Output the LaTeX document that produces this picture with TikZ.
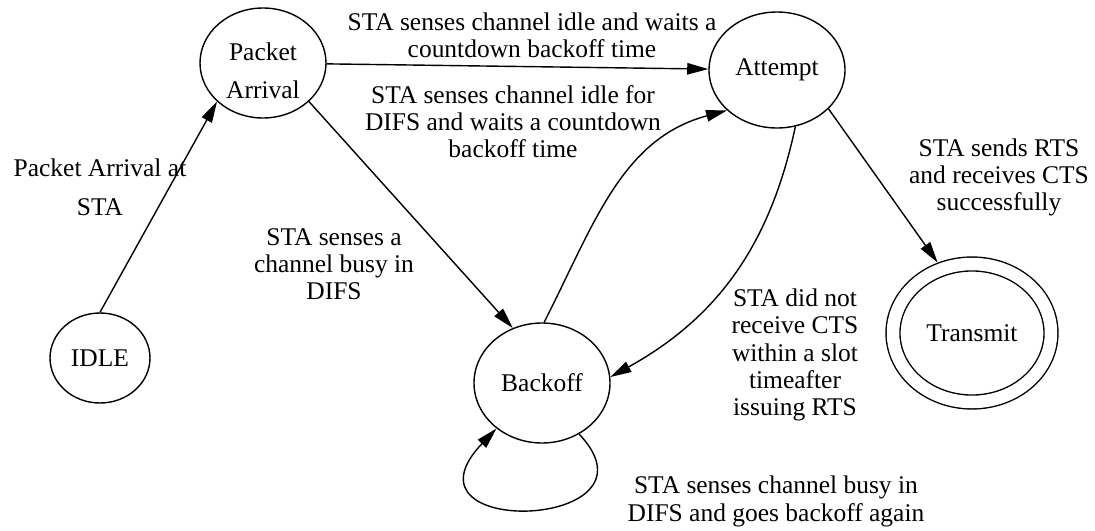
\documentclass[tikz,border=0pt]{standalone}
\usepackage{fontspec}
\setmainfont{Liberation Serif}
\usetikzlibrary{shapes.geometric,arrows.meta}

\begin{document}
\begin{tikzpicture}[>={Triangle[length=12pt,width=6.5pt]},
   statenode/.style={draw,ellipse,line width=0.8pt,inner sep=0pt,align=center,font=\fontsize{14.5}{21.5}\selectfont},
   lbl/.style={align=center,font=\fontsize{14.5}{15.5}\selectfont},
   trans/.style={->,line width=0.8pt}]
  \useasboundingbox (0,0) rectangle (21.9,-10.62);

  \node[statenode,minimum width=2cm,minimum height=1.8cm] (idle) at (2.0,-7.16) {IDLE};
  \node[statenode,minimum width=2.52cm,minimum height=2.2cm,
        label={[align=center,font=\fontsize{14.5}{21.5}\selectfont,yshift=-0.15cm]center:Packet\\Arrival}] (packet) at (5.26,-1.26) {};
  \node[statenode,minimum width=2.72cm,minimum height=2.32cm] (attempt) at (15.54,-1.4) {Attempt};
  \node[statenode,minimum width=2.72cm,minimum height=2.4cm] (backoff) at (10.84,-7.66) {Backoff};
  \node[statenode,double,double distance=0.25cm,outer sep=0.155cm,
        minimum width=3.16cm,minimum height=2.76cm] (transmit) at (19.44,-6.66) {Transmit};

  \draw[trans] (idle.north) -- (packet.220);
  \draw[trans] (packet) -- (attempt);
  \draw[trans] (packet.-40) -- (backoff.118);
  \draw[trans] (backoff.88) to[out=63,in=195] (attempt.219);
  \draw[trans] (attempt.-72) to[out=-102,in=29] (backoff.5);
  \draw[trans] (attempt.-37) -- (transmit.116);
  \draw[trans] (backoff.-54) .. controls (13.4,-10.6) and (7.8,-10.8) .. (backoff.-135);

  \node[lbl,font=\fontsize{14.5}{22}\selectfont] (lblarrival) at (2.0,-3.74) {Packet Arrival at\\STA};
  \node[lbl] (lblidle) at (10.64,-0.7) {STA senses channel idle and waits a\\countdown backoff time};
  \node[lbl] (lbldifs) at (10.26,-2.43) {STA senses channel idle for\\DIFS and waits a countdown\\backoff time};
  \node[lbl] (lblbusy) at (6.68,-5.28) {STA senses a\\channel busy in\\DIFS};
  \node[lbl] (lblnocts) at (15.9,-7.1) {STA did not\\receive CTS\\within a slot\\timeafter\\issuing RTS};
  \node[lbl] (lblcts) at (19.98,-3.55) {STA sends RTS\\and receives CTS\\successfully};
  \node[lbl] (lblagain) at (15.52,-10.03) {STA senses channel busy in\\DIFS and goes backoff again};
\end{tikzpicture}
\end{document}
